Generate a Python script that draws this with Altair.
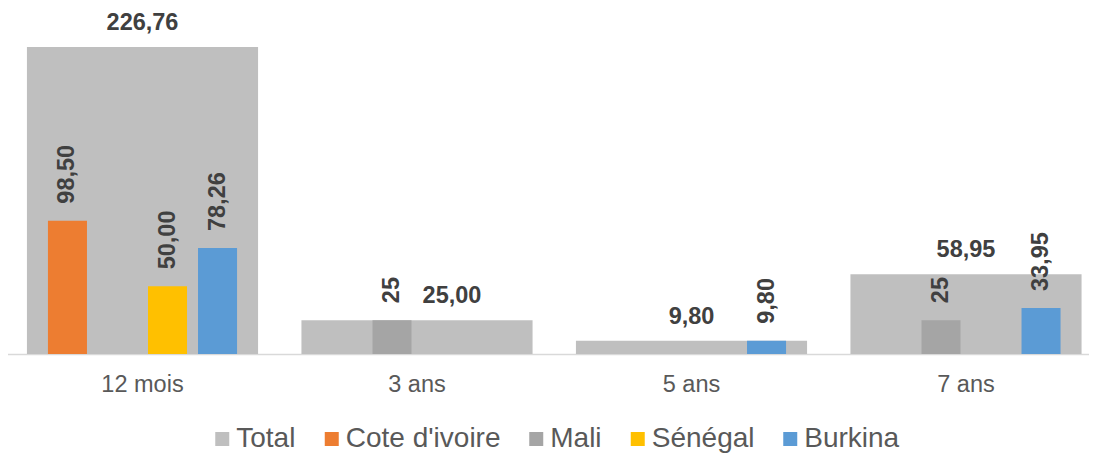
import altair as alt
import pandas as pd

categories = ["12 mois", "3 ans", "5 ans", "7 ans"]
series_names = ["Total", "Cote d'ivoire", "Mali", "Sénégal", "Burkina"]
total = [226.76, 25.00, 9.80, 58.95]
cote = [98.50, None, None, None]
mali = [None, 25, None, 25]
senegal = [50.00, None, None, None]
burkina = [78.26, None, 9.80, 33.95]
colors = ["#BFBFBF", "#ED7D31", "#A5A5A5", "#FFC000", "#5B9BD5"]

rows = []
for s, vals in zip(series_names, [total, cote, mali, senegal, burkina]):
    for c, v in zip(categories, vals):
        if v is None:
            continue
        label = f"{v:.0f}" if s == "Mali" else f"{v:.2f}".replace(".", ",")
        rows.append(dict(cat=c, serie=s, value=v, label=label))
df = pd.DataFrame(rows)

FONT = "Liberation Sans"

x = alt.X("cat:N", sort=categories,
          scale=alt.Scale(paddingInner=0.158, paddingOuter=0.079),
          axis=alt.Axis(title=None, labelAngle=0, ticks=False, tickSize=0,
                        labelPadding=18.5, labelFontSize=23.5, labelColor="#595959",
                        labelFont=FONT, domainColor="#D9D9D9", domainWidth=1.5))
y = alt.Y("value:Q", scale=alt.Scale(domain=[0, 250], nice=False), axis=None)
color = alt.Color("serie:N", scale=alt.Scale(domain=series_names, range=colors),
                  legend=alt.Legend(title=None, orient="none", legendX=203, legendY=409.5,
                                    direction="horizontal"))
xoff = alt.XOffset("serie:N", scale=alt.Scale(domain=series_names[1:],
                                               paddingInner=0.22, paddingOuter=0.42))

base = alt.Chart(df)
tot = base.transform_filter("datum.serie == 'Total'")
ser = base.transform_filter("datum.serie != 'Total'")

bars_total = tot.mark_bar().encode(x=x, y=y, color=color)
bars_ser = ser.mark_bar().encode(x=x, xOffset=xoff, y=y, color=color)

txt = dict(fontSize=23.5, fontWeight="bold", color="#404040", font=FONT)
lbl_total = tot.transform_filter("datum.cat != '3 ans'").mark_text(
    baseline="alphabetic", dy=-17, **txt).encode(x=x, y=y, text="label:N")
lbl_total_3 = tot.transform_filter("datum.cat == '3 ans'").mark_text(
    baseline="alphabetic", dy=-17, dx=35, **txt).encode(x=x, y=y, text="label:N")
lbl_ser = ser.mark_text(angle=270, align="left", baseline="middle", dx=17, **txt).encode(
    x=x, xOffset=xoff, y=y, text="label:N")

chart = alt.layer(bars_total, bars_ser, lbl_total, lbl_total_3, lbl_ser).properties(
    width=1098, height=338.5,
    autosize=alt.AutoSizeParams(type="none"),
    padding={"left": -2.75, "top": 7.5, "right": -14.25, "bottom": 100},
).configure_view(stroke=None).configure_legend(
    symbolType="square", symbolSize=196, symbolStrokeWidth=0,
    labelFontSize=28, labelColor="#595959", labelFont=FONT,
    labelOffset=0, columnPadding=21.5, padding=0, labelLimit=400,
)

chart.save("out.html", embed_options={"renderer": "svg", "actions": False})
